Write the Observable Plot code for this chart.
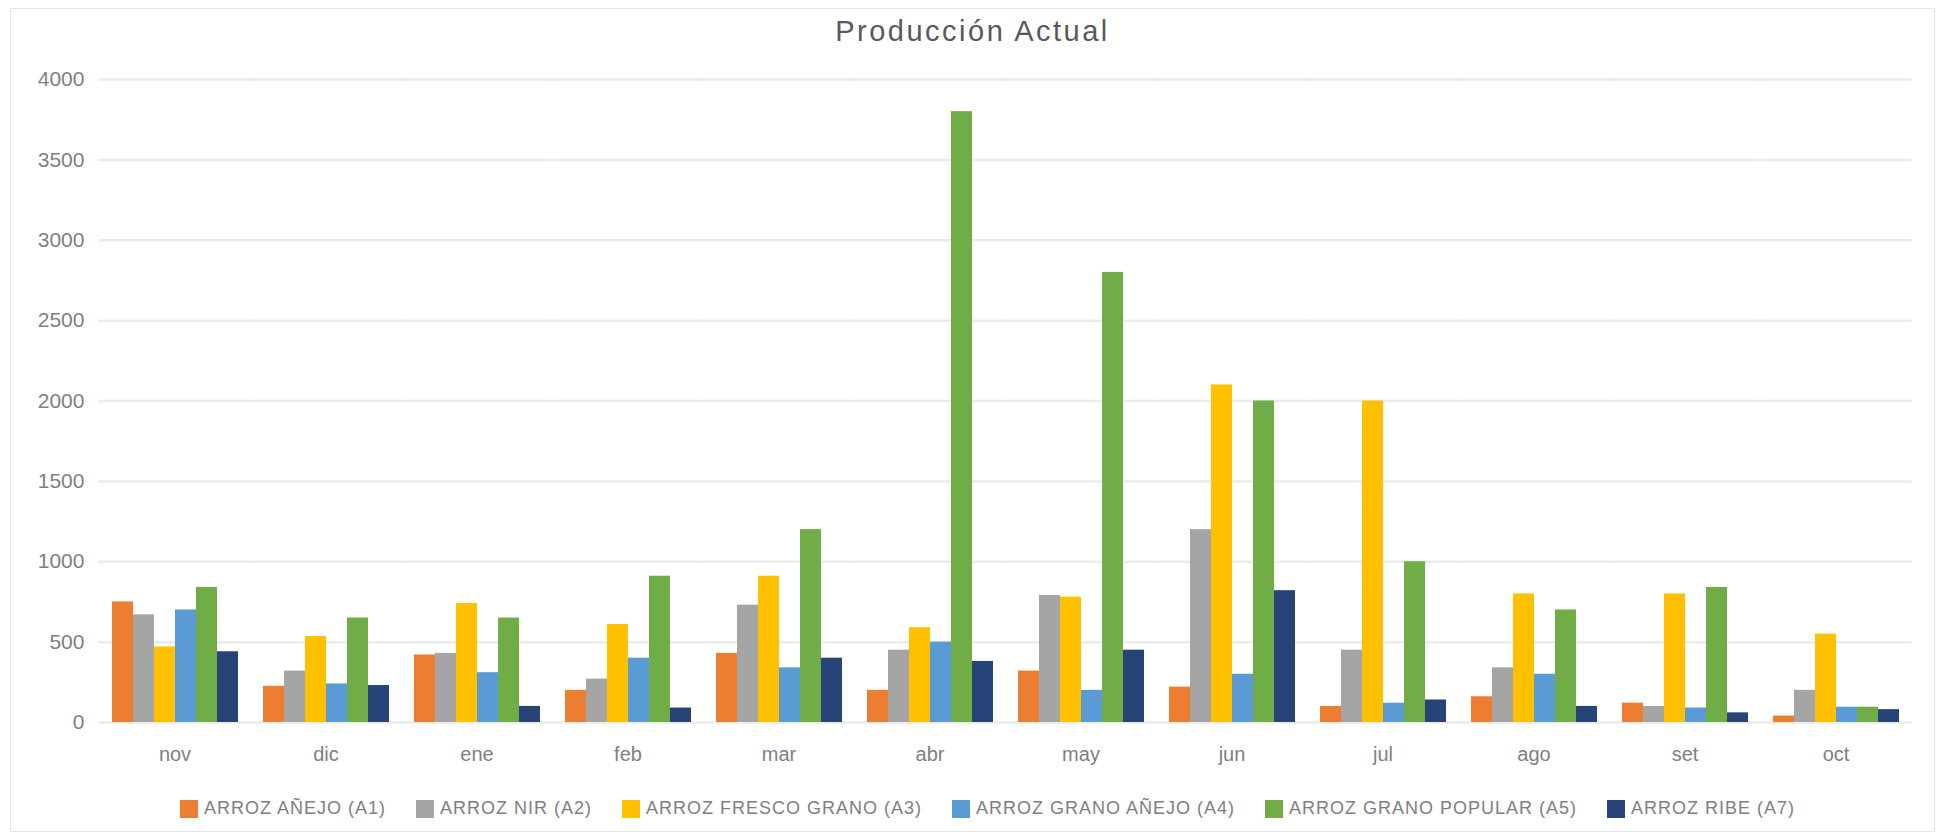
<!DOCTYPE html>
<html>
<head>
<meta charset="utf-8">
<script src="https://cdn.jsdelivr.net/npm/d3@7"></script>
<script src="https://cdn.jsdelivr.net/npm/@observablehq/plot@0.6"></script>
<style>
  html, body { margin: 0; padding: 0; background: #ffffff; }
  body { width: 1943px; height: 840px; overflow: hidden; font-family: "Liberation Sans", Arial, sans-serif; }
  #frame { position: absolute; left: 10px; top: 8px; width: 1925px; height: 824px; border: 1.5px solid #e6e6e6; box-sizing: border-box; background: #fff; }
  #title { height: 45px; line-height: 45px; text-align: center; font-size: 29px; letter-spacing: 2.5px; color: #595959; }
  #chart svg { display: block; }
  #legend { padding-top: 26px; display: flex; justify-content: center; align-items: center; gap: 30px; padding-left: 30px; }
  .item { display: flex; align-items: center; gap: 6px; font-size: 18px; letter-spacing: 1px; color: #7f7f7f; }
  .sw { width: 18px; height: 18px; display: inline-block; }
</style>
</head>
<body>
<div id="frame">
  <div id="title">Producción Actual</div>
  <div id="chart"></div>
  <div id="legend"></div>
</div>
<script>
const months = ["nov","dic","ene","feb","mar","abr","may","jun","jul","ago","set","oct"];
const seriesNames = ["ARROZ AÑEJO (A1)", "ARROZ NIR (A2)", "ARROZ FRESCO GRANO (A3)", "ARROZ GRANO AÑEJO (A4)", "ARROZ GRANO POPULAR (A5)", "ARROZ RIBE (A7)"];
const seriesColors = ["#ED7D31", "#A5A5A5", "#FFC000", "#5B9BD5", "#70AD47", "#264478"];
const a1 = [750, 225, 420, 200, 430, 200, 320, 220, 100, 160, 120, 40];
const a2 = [670, 320, 430, 270, 730, 450, 790, 1200, 450, 340, 100, 200];
const a3 = [470, 535, 740, 610, 910, 590, 780, 2100, 2000, 800, 800, 550];
const a4 = [700, 240, 310, 400, 340, 500, 200, 300, 120, 300, 90, 95];
const a5 = [840, 650, 650, 910, 1200, 3800, 2800, 2000, 1000, 700, 840, 95];
const a7 = [440, 230, 100, 90, 400, 380, 450, 820, 140, 100, 60, 80];
const yTicks = [0, 500, 1000, 1500, 2000, 2500, 3000, 3500, 4000];

const seriesValues = [a1, a2, a3, a4, a5, a7];
const rows = [];
months.forEach((m, i) => {
  seriesNames.forEach((s, j) => {
    rows.push({month: m, series: s, value: seriesValues[j][i]});
  });
});

const W = 1922, ML = 86, MR = 21;
const padIn = 0.146, padOut = 0.073;
// half-gap between month groups, so the grid lines join up across facets
const half = ((W - ML - MR) / months.length) * padOut;
const ext = -half - 0.5;

const chart = Plot.plot({
  width: W,
  height: 718,
  marginLeft: ML,
  marginRight: MR,
  marginTop: 25,
  marginBottom: 50,
  style: {fontFamily: "'Liberation Sans', Arial, sans-serif", background: "#fff"},
  fx: {domain: months, paddingInner: padIn, paddingOuter: padOut, label: null, axis: null},
  x: {domain: seriesNames, padding: 0, axis: null},
  y: {domain: [0, 4000], axis: null},
  color: {domain: seriesNames, range: seriesColors},
  marks: [
    Plot.ruleY(yTicks, {stroke: "#ebebeb", strokeWidth: 2.5, insetLeft: ext, insetRight: ext}),
    Plot.barY(rows, {fx: "month", x: "series", y: "value", fill: "series", inset: 0}),
    Plot.axisY(yTicks, {tickSize: 0, tickPadding: 15 + half, tickFormat: d => String(d), fontSize: 21, fill: "#7f7f7f", label: null}),
    Plot.axisFx({anchor: "bottom", tickSize: 0, tickPadding: 24, fontSize: 20, fill: "#7f7f7f", label: null})
  ]
});
document.getElementById("chart").appendChild(chart);

const legend = document.getElementById("legend");
seriesNames.forEach((s, j) => {
  const item = document.createElement("div");
  item.className = "item";
  const sw = document.createElement("span");
  sw.className = "sw";
  sw.style.background = seriesColors[j];
  const t = document.createElement("span");
  t.textContent = s;
  item.appendChild(sw);
  item.appendChild(t);
  legend.appendChild(item);
});
</script>
</body>
</html>
